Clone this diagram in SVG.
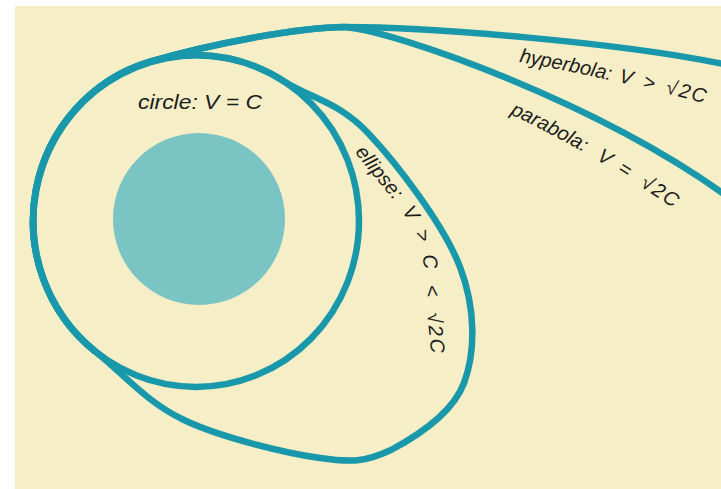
<svg xmlns="http://www.w3.org/2000/svg" width="721" height="489" viewBox="0 0 721 489">
  <style>
    .orbit { fill: none; stroke: #1898AA; stroke-width: 6.5; stroke-linejoin: round; }
    .lbl { font-family: "Liberation Sans", "Arial", sans-serif; font-style: italic; font-size: 20px; fill: #1c1c1c; }
  </style>
  <defs>
    <path id="p-ell" d="M 352 148 C 378 186, 421 220, 424 268 C 426 300, 429 335, 434 380"/>
    <path id="p-hyp" d="M 519 62 Q 620 80 730 110"/>
    <path id="p-par" d="M 510 114 Q 600 156 705 230"/>
  </defs>
  <rect x="0" y="0" width="721" height="489" fill="#FFFFFF"/>
  <rect x="15" y="6" width="706" height="483" fill="#F6EEC6"/>

  <g id="planet">
    <circle cx="199" cy="219" r="86" fill="#7BC4C4"/>
  </g>

  <g id="orbits">
    <ellipse id="orbit-circle" class="orbit" cx="196" cy="221" rx="163" ry="166"/>
    <path id="orbit-ellipse" class="orbit" d="M 95 351.3 A 163 166 0 0 1 285 82 C 313 99, 338.8 102.2, 368 133 C 397.2 163.8, 444 225.3, 460 267 C 476 308.7, 475.5 352.5, 464 383 C 452.5 413.5, 415 437.2, 391 450 C 367 461, 354 463, 320 458 C 285.5 453, 221.5 437.8, 184 420 C 146.5 402.2, 124.2 374.5, 95 351.3 Z"/>
    <path id="orbit-parabola" class="orbit" d="M 95 351.3 A 163 166 0 0 1 150 61.7 C 210 44, 300 27, 345 27 C 400 32, 600 104, 728 197"/>
    <path id="orbit-hyperbola" class="orbit" d="M 95 351.3 A 163 166 0 0 1 150 61.7 C 210 44, 300 27, 345 27 C 425 27, 620 42, 728 65"/>
  </g>

  <g id="label-circle">
    <text class="lbl" x="138" y="109" font-size="22" textLength="124" lengthAdjust="spacingAndGlyphs">circle: V = C</text>
  </g>
  <g id="label-ellipse">
    <text class="lbl"><textPath href="#p-ell" startOffset="5">ellipse:<tspan dx="13">V</tspan><tspan dx="12">&gt;</tspan><tspan dx="12">C</tspan><tspan dx="16">&lt;</tspan><tspan dx="16" letter-spacing="2">√2C</tspan></textPath></text>
  </g>
  <g id="label-hyperbola">
    <text class="lbl"><textPath href="#p-hyp">hyperbola:<tspan dx="8">V</tspan><tspan dx="11">&gt;</tspan><tspan dx="12" letter-spacing="2">√2C</tspan></textPath></text>
  </g>
  <g id="label-parabola">
    <text class="lbl"><textPath href="#p-par">parabola:<tspan dx="14">V</tspan><tspan dx="11">=</tspan><tspan dx="15" letter-spacing="2">√2C</tspan></textPath></text>
  </g>
</svg>
